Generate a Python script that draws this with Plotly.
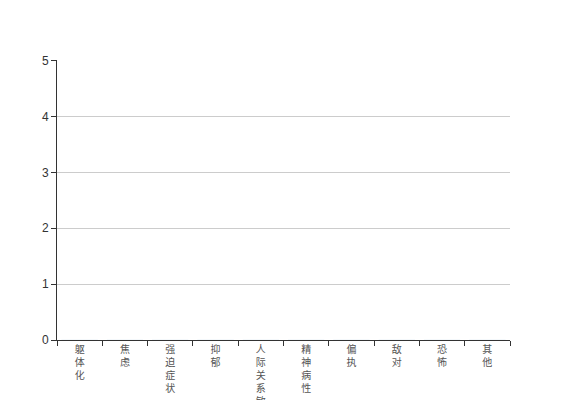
import plotly.graph_objects as go

categories = ["躯体化", "焦虑", "强迫症状", "抑郁", "人际关系敏感", "精神病性", "偏执", "敌对", "恐怖", "其他"]
values = [0, 0, 0, 0, 0, 0, 0, 0, 0, 0]
y_ticks = [0, 1, 2, 3, 4, 5]

tick_text = ["<br>".join(list(c)) for c in categories]

fig = go.Figure()
fig.add_trace(go.Bar(x=categories, y=values, marker_color="#5470c6", showlegend=False, hoverinfo="skip"))

fig.update_layout(
    width=559, height=392,
    margin=dict(l=49, r=57, t=52, b=60, autoexpand=False),
    paper_bgcolor="white", plot_bgcolor="white",
    font=dict(family="Liberation Sans, Noto Sans CJK SC, sans-serif", size=12, color="#333"),
)
fig.update_xaxes(
    type="category",
    tickvals=categories, ticktext=tick_text,
    tickangle=0, automargin=False,
    showline=True, linecolor="#333", linewidth=1,
    ticks="outside", tickson="boundaries", ticklen=5, tickcolor="#333",
    showgrid=False,
    tickfont=dict(family="Noto Sans CJK SC, sans-serif", size=10, color="#555"),
)
fig.update_yaxes(
    range=[0, 5.01], tickvals=y_ticks, automargin=False,
    showline=True, linecolor="#333", linewidth=1,
    ticks="outside", ticklen=5, tickcolor="#333",
    showgrid=True, gridcolor="#ccc", gridwidth=1,
    zeroline=False,
    tickfont=dict(size=12, color="#333"),
)

fig.write_html("out.html")
